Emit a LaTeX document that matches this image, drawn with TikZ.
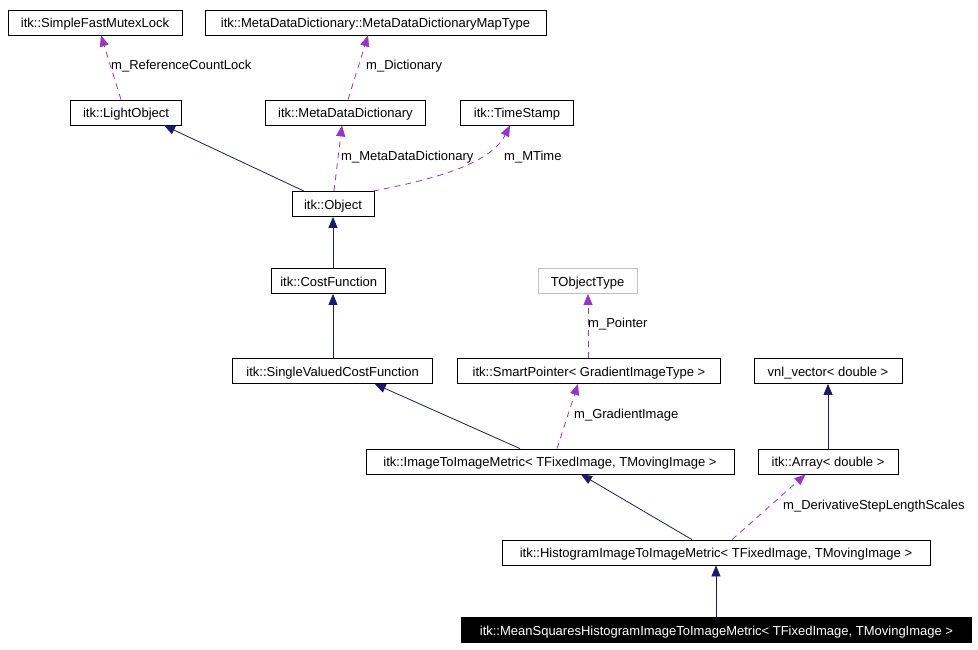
\documentclass[tikz,border=0pt]{standalone}
\usepackage{fontspec}
\setmainfont{Liberation Sans}
\usetikzlibrary{arrows.meta}
\definecolor{edgeblue}{RGB}{25,25,112}
\definecolor{edgepurple}{RGB}{154,50,205}
\definecolor{boxgray}{RGB}{191,191,191}
\begin{document}
\begin{tikzpicture}[x=1pt, y=-1pt,
  cls/.style={draw, line width=0.8pt, minimum height=25pt, inner xsep=2pt, inner ysep=0pt,
    text height=10pt, text depth=0pt, font=\fontsize{13}{15}\selectfont},
  ext/.style={cls, draw=boxgray},
  focus/.style={cls, fill=black, text=white},
  inh/.style={draw=edgeblue, line width=0.8pt, -{Triangle[length=11pt, width=9pt]}},
  mem/.style={draw=edgepurple, line width=0.8pt, dash pattern=on 6pt off 5pt, -{Triangle[length=11pt, width=9pt]}},
  lbl/.style={font=\fontsize{13}{15}\selectfont, anchor=west, inner sep=1pt}
]
\useasboundingbox (0,0) rectangle (978,650);
% classes
\node[cls, minimum width=174pt] (sfml) at (95,22.5) {itk::SimpleFastMutexLock};
\node[cls, minimum width=341pt] (map) at (375.5,22.5) {itk::MetaDataDictionary::MetaDataDictionaryMapType};
\node[cls, minimum width=111pt] (light) at (126,112.5) {itk::LightObject};
\node[cls, minimum width=160pt] (mdd) at (345.4,112.5) {itk::MetaDataDictionary};
\node[cls, minimum width=113pt] (ts) at (517,112.5) {itk::TimeStamp};
\node[cls, minimum width=82pt] (obj) at (333,204) {itk::Object};
\node[cls, minimum width=114pt] (cost) at (328.7,281) {itk::CostFunction};
\node[ext, minimum width=99pt] (tobj) at (587.5,281) {TObjectType};
\node[cls, minimum width=200pt] (svcf) at (332.7,371) {itk::SingleValuedCostFunction};
\node[cls, minimum width=263pt] (sp) at (589,371) {itk::SmartPointer< GradientImageType >};
\node[cls, minimum width=148pt] (vnl) at (828,371) {vnl\_vector< double >};
\node[cls, minimum width=368pt] (itim) at (550,461.5) {itk::ImageToImageMetric< TFixedImage, TMovingImage >};
\node[cls, minimum width=140pt] (array) at (828,461.5) {itk::Array< double >};
\node[cls, minimum width=428pt] (hist) at (716,552.5) {itk::HistogramImageToImageMetric< TFixedImage, TMovingImage >};
\node[focus, minimum width=510pt] (mean) at (716.5,630) {itk::MeanSquaresHistogramImageToImageMetric< TFixedImage, TMovingImage >};
% inheritance
\foreach \s/\sx/\t/\tx in {obj/-29/light/38, cost/4.3/obj/0, svcf/0.3/cost/4.3, itim/-30/svcf/42,
                           array/0/vnl/0, hist/-24/itim/31, mean/-0.5/hist/0} {
  \draw[inh] ([xshift=\sx]\s.north) -- ([xshift=\tx]\t.south);
}
% members
\foreach \s/\sx/\t/\tx in {light/-5/sfml/6, mdd/2.6/map/-7.5, obj/1/mdd/-3.4, sp/-1/tobj/0.5,
                           itim/7/sp/-11, hist/16/array/-22.5} {
  \draw[mem] ([xshift=\sx]\s.north) -- ([xshift=\tx]\t.south);
}
\draw[mem] ([xshift=40]obj.north) .. controls (430,180) and (490,165) .. ([xshift=-7]ts.south);
% member names
\foreach \n/\x/\y/\t in {lref/110/66.5/m\_ReferenceCountLock, ldict/365/66.5/m\_Dictionary,
                         lmdd/340/157.5/m\_MetaDataDictionary, ltime/503/157.5/m\_MTime,
                         lptr/587/324.5/m\_Pointer, lgrad/573/415.5/m\_GradientImage,
                         lscales/782/506.5/m\_DerivativeStepLengthScales} {
  \node[lbl] (\n) at (\x,\y) {\t};
}
\end{tikzpicture}
\end{document}
